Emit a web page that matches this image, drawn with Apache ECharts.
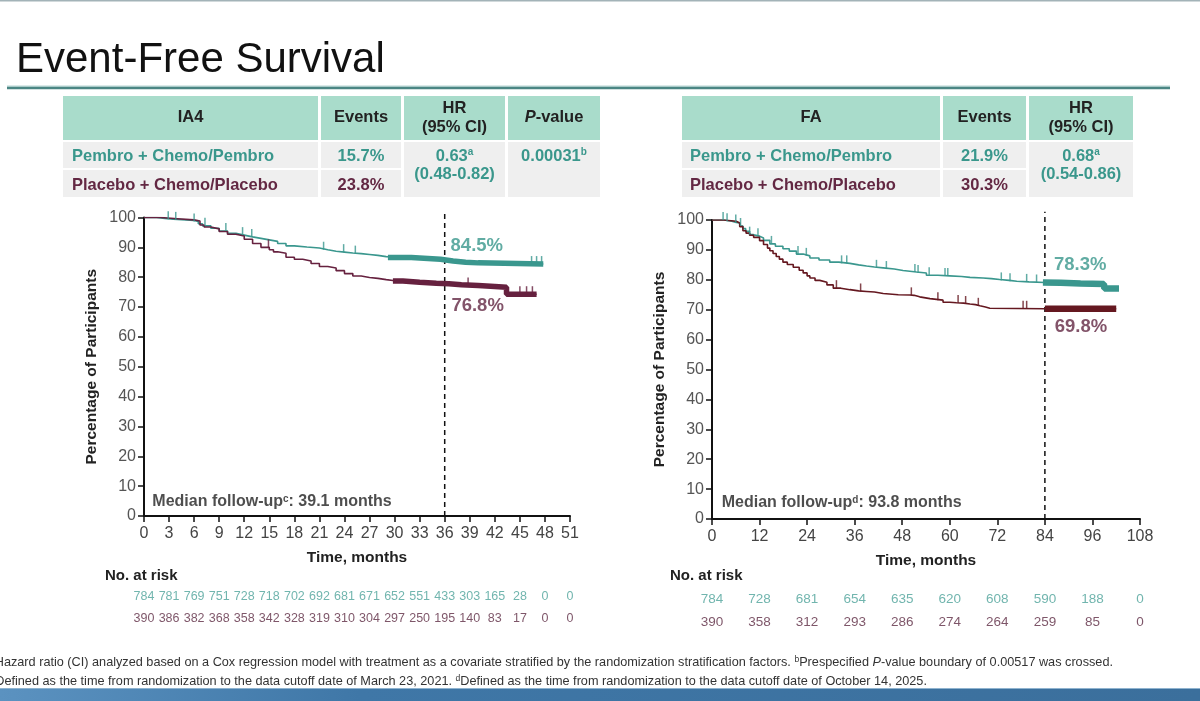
<!DOCTYPE html>
<html><head><meta charset="utf-8">
<script src="https://cdn.jsdelivr.net/npm/echarts@6/dist/echarts.min.js"></script>
<style>html,body{margin:0;padding:0;background:#fff}#c{width:1200px;height:701px}</style>
</head><body><div id="c"></div>
<script>
// ---------------- DATA ----------------
const ia4Ticks = [0,3,6,9,12,15,18,21,24,27,30,33,36,39,42,45,48,51];
const faTicks = [0,12,24,36,48,60,72,84,96,108];

const ia4Pembro = [[0,100],[1.5,99.7],[2.5,99.4],[3.5,99.2],[5,99.0],[6,98.7],[6.5,97.9],[7,97.2],[8,96.4],[9,95.5],[10,94.7],[11,94.1],[12,93.5],[13,93.0],[14,92.5],[15,92.0],[16,91.3],[17,90.5],[18,90.1],[19.5,89.8],[21,89.2],[22,88.7],[23,88.4],[24,88.1],[25,87.9],[26,87.6],[27,87.3],[28,86.9],[29,86.6],[32,86.3],[34,86.0],[35.5,85.4],[37,85.0],[38.5,84.8],[40,84.4],[47.8,84.3]];
const ia4Placebo = [[0,100],[2,99.6],[4,99.2],[6,98.8],[6.7,97.5],[7.2,96.8],[8,96.2],[9,95.3],[10,94.4],[11,93.8],[12,92.7],[13,91.3],[14,90.0],[15,89.2],[15.5,88.5],[16,88.0],[17,86.7],[18,86.0],[19,85.4],[20,84.6],[21,83.6],[22,83.1],[23,82.2],[24,81.2],[25,80.4],[26,79.9],[27,79.6],[28,79.2],[29,78.9],[29.8,78.7],[31,78.3],[33,78.0],[35,77.8],[36.5,77.5],[38,77.2],[40,76.9],[42,76.6],[43.4,74.3],[47,74.2]];
const faPembro = [[0,100],[3,99.6],[5,99.2],[6.1,99.0],[7,98.0],[7.8,97.1],[8.5,96.2],[9.5,95.1],[10.5,94.6],[12,94.0],[13,93.2],[14.6,92.0],[16,91.2],[17.9,90.4],[19.5,89.6],[21.3,88.6],[23,88.0],[24.7,87.3],[27,86.6],[29.7,85.9],[32,85.5],[34.8,85.0],[37,84.6],[39,84.3],[41,84.0],[43.2,83.6],[46,83.1],[48.2,82.6],[51.6,82.3],[54.1,81.5],[57,81.3],[60,81.1],[63,80.8],[65.1,80.6],[68.4,80.4],[70.5,80.1],[72.6,79.8],[75,79.5],[76.9,79.3],[80,79.1],[84,79.0],[88,78.8],[93,78.6],[98.9,78.4],[99,77.1],[102.7,77.1]];
const faPlacebo = [[0,100],[3,99.6],[6.1,99.0],[7,97.8],[7.8,96.4],[8.6,95.6],[9.5,94.9],[10.5,94.2],[12,93.1],[13,91.8],[14,90.6],[14.6,89.7],[15.4,88.8],[16.2,87.8],[17,86.9],[17.9,85.9],[19,85.1],[20.5,84.2],[22,83.2],[23,82.3],[24,81.3],[24.7,80.6],[26,79.8],[27.2,79.2],[29,78.3],[30.6,77.2],[32.5,76.7],[34.8,76.3],[37,76.1],[39,75.9],[41,75.4],[43.2,75.0],[47,74.9],[50,74.8],[51,74.3],[52.4,73.7],[55,73.2],[58.3,72.5],[60,72.3],[61.7,72.2],[63.5,71.9],[65.1,71.7],[66.5,71.3],[67.6,70.9],[69,70.5],[70.1,70.3],[84,70.3],[102,70.3]];

const ia4PembroCensor = [2.9,3.8,6.0,7.3,9.8,11.8,12.9,21.5,23.9,25.3,46.4,47.0,47.6];
const ia4PlaceboCensor = [14.9,38.8,45.0,45.8,46.5];
const faPembroCensor = [2.8,3.8,6,7.2,9.5,11.6,15,21.7,23.8,32.7,34,41.5,44,51.2,52,54.8,58.8,59.5,73,75.2,79.4,81.9];
const faPlaceboCensor = [31.4,37.5,50.3,57,62.1,64,67.2,78.5,79.4];

// ranges with dense censoring (drawn as a thick band)
const ia4PembroBand = [29.2,47.8];
const ia4PlaceboBand = [29.8,47.0];
const faPembroBand = [83.5,102.7];
const faPlaceboBand = [84,102];

const ia4Landmark = 36, faLandmark = 84;
const ia4LandmarkLabels = ['84.5%','76.8%'];
const faLandmarkLabels = ['78.3%','69.8%'];

const ia4RiskPembro = [784,781,769,751,728,718,702,692,681,671,652,551,433,303,165,28,0,0];
const ia4RiskPlacebo = [390,386,382,368,358,342,328,319,310,304,297,250,195,140,83,17,0,0];
const faRiskPembro = [784,728,681,654,635,620,608,590,188,0];
const faRiskPlacebo = [390,358,312,293,286,274,264,259,85,0];

const ia4Table = {title:'IA4', events:['15.7%','23.8%'], hr:'0.63', hrSup:'a', ci:'(0.48-0.82)', p:'0.00031', pSup:'b'};
const faTable = {title:'FA', events:['21.9%','30.3%'], hr:'0.68', hrSup:'a', ci:'(0.54-0.86)'};
const armNames = ['Pembro + Chemo/Pembro','Placebo + Chemo/Placebo'];
const followUp = [['c','39.1'],['d','93.8']];

// ---------------- STYLE ----------------
const F = '"Liberation Sans", Arial, Helvetica, sans-serif';
const TEAL = '#3a978e', MAROON = '#66213f', MAROON2 = '#651820';
const TEALTXT = '#3a978c', MAROONTXT = '#632843';
const HEAD = '#a9dccb', BODY = '#efefef';

function stepValue(curve, t){ let v = curve[0][1]; for (const p of curve){ if (p[0] <= t) v = p[1]; } return v; }
function bandData(curve, r){ const out = [[r[0], stepValue(curve, r[0])]]; for (const p of curve){ if (p[0] > r[0] && p[0] <= r[1]) out.push(p); } out.push([r[1], stepValue(curve, r[1])]); return out; }

function kmSeries(idx, curve, band, censor, color, bandW){
  return [
    {type:'line', xAxisIndex:idx, yAxisIndex:idx, data:curve, step:'end', symbol:'none', lineStyle:{color, width:1.6}, z:3, silent:true},
    {type:'line', xAxisIndex:idx, yAxisIndex:idx, data:bandData(curve, band), step:'end', symbol:'none', lineStyle:{color, width:bandW}, z:3, silent:true},
    {type:'scatter', xAxisIndex:idx, yAxisIndex:idx, data:censor.map(t=>[t, stepValue(curve,t)]), symbol:'rect', symbolSize:[1.5,8], symbolOffset:[0,-4], itemStyle:{color}, z:4, silent:true}
  ];
}
function riskSeries(idx, ticks, vals, row, color, fs){
  return {type:'scatter', xAxisIndex:idx, yAxisIndex:idx, symbolSize:0, silent:true,
    data: ticks.map((t,i)=>[t,row,vals[i]]),
    label:{show:true, position:'inside', formatter:p=>String(p.value[2]), color, fontFamily:F, fontSize:fs}};
}
function labelSeries(idx, pts, texts, colors){
  return {type:'scatter', xAxisIndex:idx, yAxisIndex:idx, symbolSize:0, silent:true, z:5,
    data: pts.map((p,i)=>({value:p, label:{formatter:texts[i], color:colors[i]}})),
    label:{show:true, position:'right', distance:0, fontFamily:F, fontSize:18.5, fontWeight:'bold'}};
}
function dashSeries(idx, x, top){
  return {type:'line', xAxisIndex:idx, yAxisIndex:idx, data:[[x,0],[x,top]], symbol:'none', clip:false, silent:true,
    lineStyle:{color:'#111', width:1.5, type:[5,4]}, z:2};
}
function followSeries(idx, pt, sup, val){
  return {type:'scatter', xAxisIndex:idx, yAxisIndex:idx, symbolSize:0, silent:true, data:[pt],
    label:{show:true, position:'right', distance:0, formatter:'{b|Median follow-up}{s|'+sup+'}{b|: '+val+' months}',
      rich:{b:{fontFamily:F, fontSize:16, fontWeight:'bold', color:'#222'}, s:{fontFamily:F, fontSize:10, fontWeight:'bold', color:'#222', verticalAlign:'top'}}}};
}

function valueX(idx, max, interval){
  return {type:'value', gridIndex:idx, min:0, max, interval,
    name:'Time, months', nameLocation:'middle', nameGap:34,
    nameTextStyle:{fontFamily:F, fontSize:15.5, fontWeight:'bold', color:'#222'},
    axisLine:{lineStyle:{color:'#111', width:2}}, axisTick:{length:6, lineStyle:{color:'#111', width:1.5}},
    axisLabel:{fontFamily:F, fontSize:16, color:'#444', margin:10}, splitLine:{show:false}};
}
function valueY(idx){
  return {type:'value', gridIndex:idx, min:0, max:100, interval:10,
    name:'Percentage of Participants', nameLocation:'middle', nameGap:44, nameRotate:90,
    nameTextStyle:{fontFamily:F, fontSize:15.5, fontWeight:'bold', color:'#222'},
    axisLine:{show:true, lineStyle:{color:'#111', width:2}}, axisTick:{show:true, length:6, lineStyle:{color:'#111', width:1.5}},
    axisLabel:{fontFamily:F, fontSize:16, color:'#555', margin:8}, splitLine:{show:false}};
}

// ---------------- GRAPHICS (slide frame and tables) ----------------
const G = [];
function rect(x,y,w,h,fill){ G.push({type:'rect', shape:{x,y,width:w,height:h}, style:{fill}, silent:true}); }
function text(x,y,t,opt){ G.push({type:'text', x, y, silent:true, style:Object.assign({text:t, fontFamily:F, fontSize:16.5, fontWeight:'bold', fill:'#222', textAlign:'center', textVerticalAlign:'middle'}, opt||{})}); }

rect(0,0,1200,1.5,'#a3b3b8');
text(16,60,'Event-Free Survival',{fontSize:42, fontWeight:'normal', fill:'#111', textAlign:'left'});
rect(7,85.5,1163,1.2,'#b7d6d4');
rect(7,86.7,1163,2.6,'#4b8684');

function table(t, x0, cols, hasP){
  const yH=96, hH=44, y1=142, rH=26, y2=170;
  const c = cols;
  for (let i=0;i<c.length;i++) rect(c[i][0],yH,c[i][1]-c[i][0],hH,HEAD);
  rect(c[0][0],y1,c[0][1]-c[0][0],rH,BODY); rect(c[0][0],y2,c[0][1]-c[0][0],27,BODY);
  rect(c[1][0],y1,c[1][1]-c[1][0],rH,BODY); rect(c[1][0],y2,c[1][1]-c[1][0],27,BODY);
  rect(c[2][0],y1,c[2][1]-c[2][0],55,BODY);
  if (hasP) rect(c[3][0],y1,c[3][1]-c[3][0],55,BODY);
  const mid = i => (c[i][0]+c[i][1])/2;
  text(mid(0),117,t.title);
  text(mid(1),117,'Events');
  text(mid(2),108,'HR'); text(mid(2),127,'(95% CI)');
  if (hasP) G.push({type:'text', x:mid(3), y:117, silent:true, style:{text:'{i|P}{n|-value}', textAlign:'center', textVerticalAlign:'middle',
      rich:{i:{fontFamily:F, fontSize:16.5, fontWeight:'bold', fontStyle:'italic', fill:'#222'}, n:{fontFamily:F, fontSize:16.5, fontWeight:'bold', fill:'#222'}}}});
  text(x0,156,armNames[0],{textAlign:'left', fill:TEALTXT});
  text(x0,185,armNames[1],{textAlign:'left', fill:MAROONTXT});
  text(mid(1),156,t.events[0],{fill:TEALTXT});
  text(mid(1),185,t.events[1],{fill:MAROONTXT});
  const supRich = col => ({n:{fontFamily:F, fontSize:16.5, fontWeight:'bold', fill:col}, s:{fontFamily:F, fontSize:10, fontWeight:'bold', fill:col, verticalAlign:'top'}});
  G.push({type:'text', x:mid(2), y:156, silent:true, style:{text:'{n|'+t.hr+'}{s|'+t.hrSup+'}', textAlign:'center', textVerticalAlign:'middle', rich:supRich(TEALTXT)}});
  text(mid(2),174,t.ci,{fill:TEALTXT});
  if (hasP) G.push({type:'text', x:mid(3), y:156, silent:true, style:{text:'{n|'+t.p+'}{s|'+t.pSup+'}', textAlign:'center', textVerticalAlign:'middle', rich:supRich(TEALTXT)}});
}
table(ia4Table, 72, [[63,318],[321,401],[404,505],[508,600]], true);
table(faTable, 690, [[682,940],[943,1026],[1029,1133]], false);

text(105,576,'No. at risk',{textAlign:'left', fontSize:15});
text(670,576,'No. at risk',{textAlign:'left', fontSize:15});

const fnRich = {n:{fontFamily:F, fontSize:12.7, fill:'#333'}, i:{fontFamily:F, fontSize:12.7, fontStyle:'italic', fill:'#333'}, s:{fontFamily:F, fontSize:8.5, fill:'#333', verticalAlign:'top'}};
G.push({type:'text', x:-10, y:662, silent:true, style:{textAlign:'left', textVerticalAlign:'middle', rich:fnRich,
  text:'{s|a}{n|Hazard ratio (CI) analyzed based on a Cox regression model with treatment as a covariate stratified by the randomization stratification factors. }{s|b}{n|Prespecified }{i|P}{n|-value boundary of 0.00517 was crossed.}'}});
G.push({type:'text', x:-9, y:681, silent:true, style:{textAlign:'left', textVerticalAlign:'middle', rich:fnRich,
  text:'{s|c}{n|Defined as the time from randomization to the data cutoff date of March 23, 2021. }{s|d}{n|Defined as the time from randomization to the data cutoff date of October 14, 2025.}'}});

G.push({type:'rect', shape:{x:0,y:688,width:1200,height:13}, silent:true,
  style:{fill:new echarts.graphic.LinearGradient(0,0,1,0,[{offset:0,color:'#5b92c0'},{offset:0.3,color:'#3f77a7'},{offset:1,color:'#3b6f9c'}])}});
rect(0,688,1200,1,'#8fb3cf');

// ---------------- OPTION ----------------
const chart = echarts.init(document.getElementById('c'), null, {renderer:'canvas'});
const option = {
  animation:false,
  backgroundColor:'#fff',
  graphic:{elements:G},
  grid:[
    {left:144, top:217.5, width:426, height:298.5},
    {left:712, top:220, width:428, height:299},
    {left:144, top:586, width:426, height:44},
    {left:712, top:588, width:428, height:46}
  ],
  xAxis:[
    valueX(0,51,3),
    valueX(1,108,12),
    {type:'value', gridIndex:2, min:0, max:51, show:false},
    {type:'value', gridIndex:3, min:0, max:108, show:false}
  ],
  yAxis:[
    valueY(0), valueY(1),
    {type:'category', gridIndex:2, data:['pembro','placebo'], inverse:true, show:false},
    {type:'category', gridIndex:3, data:['pembro','placebo'], inverse:true, show:false}
  ],
  series:[
    dashSeries(0, ia4Landmark, 101.8),
    dashSeries(1, faLandmark, 102.8),
    ...kmSeries(0, ia4Pembro, ia4PembroBand, ia4PembroCensor, TEAL, 5.5),
    ...kmSeries(0, ia4Placebo, ia4PlaceboBand, ia4PlaceboCensor, MAROON, 5.5),
    ...kmSeries(1, faPembro, faPembroBand, faPembroCensor, TEAL, 6.5),
    ...kmSeries(1, faPlacebo, faPlaceboBand, faPlaceboCensor, MAROON2, 6.5),
    labelSeries(0, [[36.7,90.4],[36.8,70.5]], ia4LandmarkLabels, [TEALTXT, MAROONTXT]),
    labelSeries(1, [[86.3,84.9],[86.5,64.3]], faLandmarkLabels, [TEALTXT, MAROONTXT]),
    followSeries(0, [1,4.7], followUp[0][0], followUp[0][1]),
    followSeries(1, [2.45,5.35], followUp[1][0], followUp[1][1]),
    riskSeries(2, ia4Ticks, ia4RiskPembro, 0, '#4ea39a', 12.5),
    riskSeries(2, ia4Ticks, ia4RiskPlacebo, 1, '#5e2c44', 12.5),
    riskSeries(3, faTicks, faRiskPembro, 0, '#4ea39a', 13.5),
    riskSeries(3, faTicks, faRiskPlacebo, 1, '#5e2c44', 13.5)
  ]
};
chart.setOption(option);
</script></body></html>
